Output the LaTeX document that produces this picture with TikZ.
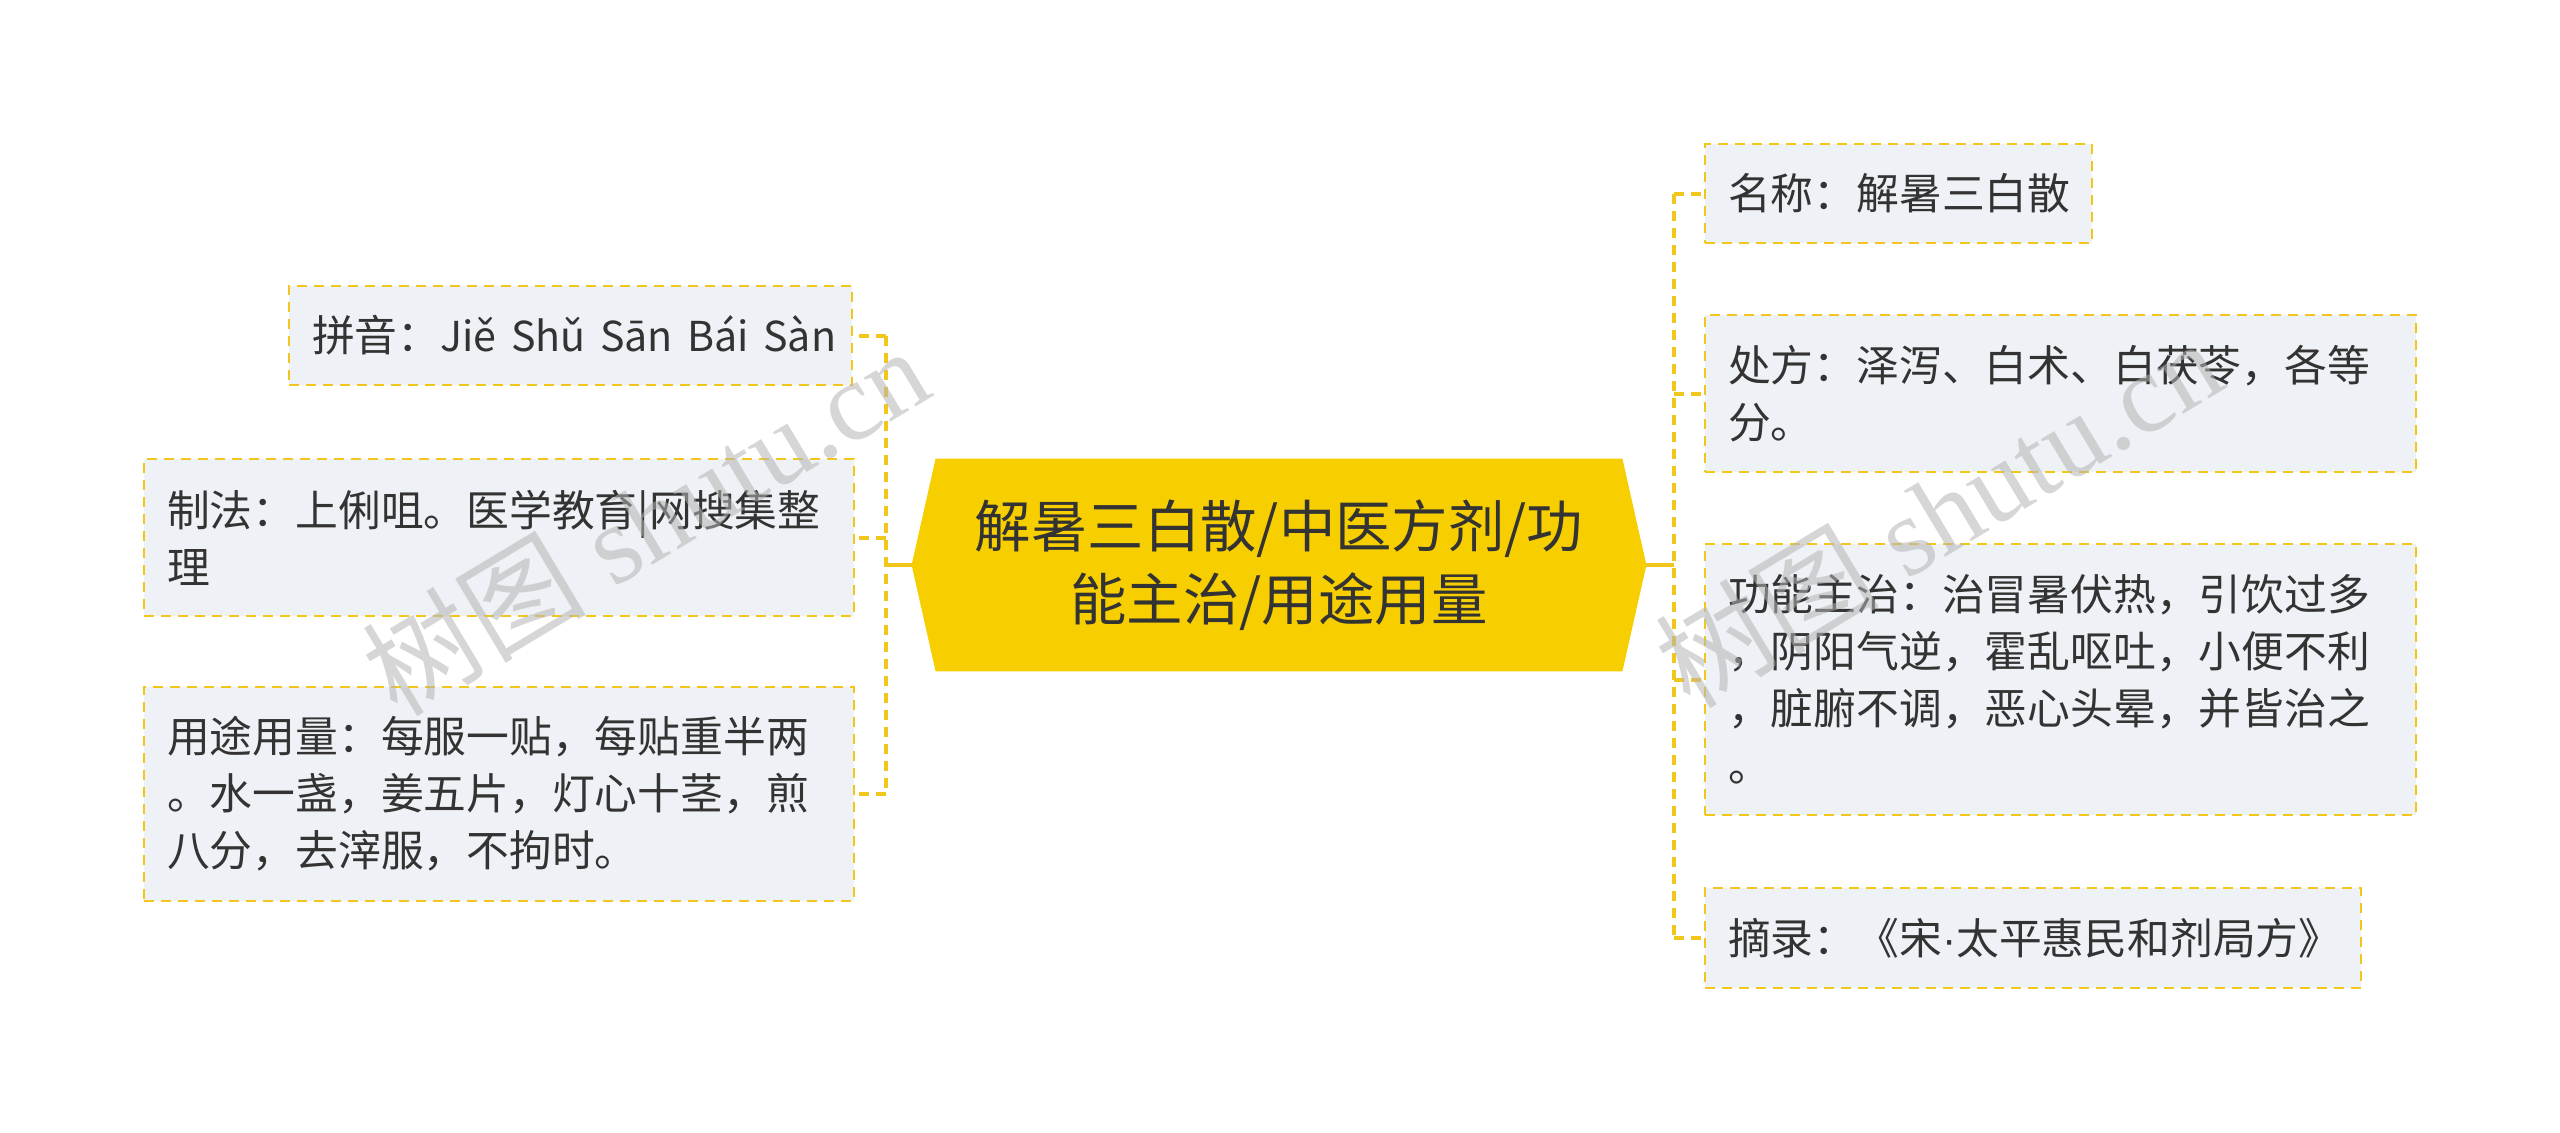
\documentclass[tikz,border=0pt]{standalone}
\usepackage{fontspec}
\setmainfont{Noto Sans CJK SC}
\newfontfamily\cjk{Noto Sans CJK SC}
\newfontfamily\wmserif{Liberation Serif}
\newfontfamily\latinsans{Liberation Sans}
\usetikzlibrary{backgrounds}
\definecolor{boxfill}{HTML}{EEF1F5}
\definecolor{boxline}{HTML}{F2C71C}
\definecolor{mainfill}{HTML}{F7CE00}
\definecolor{txt}{HTML}{333333}
\definecolor{wm}{HTML}{B4B4B4}
\begin{document}
\begin{tikzpicture}[x=0.5pt,y=-0.5pt,
  leaf/.style={draw=boxline, line width=1.25pt, dash pattern=on 5pt off 3.5pt,
    fill=boxfill, rectangle, inner xsep=11.5pt, inner ysep=0pt, align=left,
    text=txt, font=\fontsize{21.4pt}{28.5pt}\selectfont},
  conn/.style={draw=boxline, line width=2pt},
  dconn/.style={conn, dash pattern=on 5pt off 3.5pt},
  wmark/.style={text=wm, opacity=0.55, rotate=31, font=\fontsize{56pt}{60pt}\selectfont}
]
\useasboundingbox (0,0) rectangle (2560,1132);
% central node
\node[text=txt, align=center, minimum width=343pt, minimum height=106pt, inner sep=0pt,
  font=\fontsize{28.2pt}{36.7pt}\selectfont] (c) at (1279,565) {解暑三白散/中医方剂/功\\能主治/用途用量};
\begin{scope}[on background layer]
\fill[mainfill] (c.north west) -- (c.north east) -- ([xshift=12pt]c.east) -- (c.south east)
  -- (c.south west) -- ([xshift=-12pt]c.west) -- cycle;
\end{scope}
\coordinate (ltip) at ([xshift=-12pt]c.west);
\coordinate (rtip) at ([xshift=12pt]c.east);
\coordinate (lv) at (886,565);
\coordinate (rv) at (1674,565);
% left children
\node[leaf, minimum width=281.5pt, minimum height=49.5pt, text width=258.5pt] (l1) at (570.5,335.5) {\mbox{拼音：{\fontsize{20.6pt}{28.5pt}\selectfont\spaceskip=0.35em Jiě Shǔ Sān Bái Sàn}}};
\node[leaf, minimum width=355pt, minimum height=78.5pt, text width=332pt] (l2) at (499,537.5) {制法：上俐咀。医学教育|网搜集整\\理};
\node[leaf, minimum width=355pt, minimum height=107pt, text width=332pt] (l3) at (499,794) {用途用量：每服一贴，每贴重半两\\。水一盏，姜五片，灯心十茎，煎\\八分，去滓服，不拘时。};
% right children
\node[leaf, minimum width=193.5pt, minimum height=49.5pt, text width=170.5pt] (r1) at (1898.5,193.5) {名称：解暑三白散};
\node[leaf, minimum width=355.5pt, minimum height=78.5pt, text width=332.5pt] (r2) at (2060.5,393.5) {处方：泽泻、白术、白茯苓，各等\\分。};
\node[leaf, minimum width=355.5pt, minimum height=135.5pt, text width=332.5pt] (r3) at (2060.5,679.5) {功能主治：治冒暑伏热，引饮过多\\，阴阳气逆，霍乱呕吐，小便不利\\，脏腑不调，恶心头晕，并皆治之\\。};
\node[leaf, minimum width=328pt, minimum height=50pt, text width=305pt] (r4) at (2033,938) {\mbox{摘录：《宋{\latinsans ·}太平惠民和剂局方》}};
% connectors
\draw[conn] (ltip) -- (lv);
\draw[dconn] (lv |- l1.east) -- (lv |- l3.east);
\draw[dconn] (lv |- l1.east) -- (l1.east);
\draw[dconn] (lv |- l2.east) -- (l2.east);
\draw[dconn] (lv |- l3.east) -- (l3.east);
\draw[conn] (rtip) -- (rv);
\draw[dconn] (rv |- r1.west) -- (rv |- r4.west);
\draw[dconn] (rv |- r1.west) -- (r1.west);
\draw[dconn] (rv |- r2.west) -- (r2.west);
\draw[dconn] (rv |- r3.west) -- (r3.west);
\draw[dconn] (rv |- r4.west) -- (r4.west);
% watermarks
\node[wmark] (w1) at (645,520) {\cjk 树图\wmserif{} shutu.cn};
\node[wmark] (w2) at (1938,512) {\cjk 树图\wmserif{} shutu.cn};
\end{tikzpicture}
\end{document}
